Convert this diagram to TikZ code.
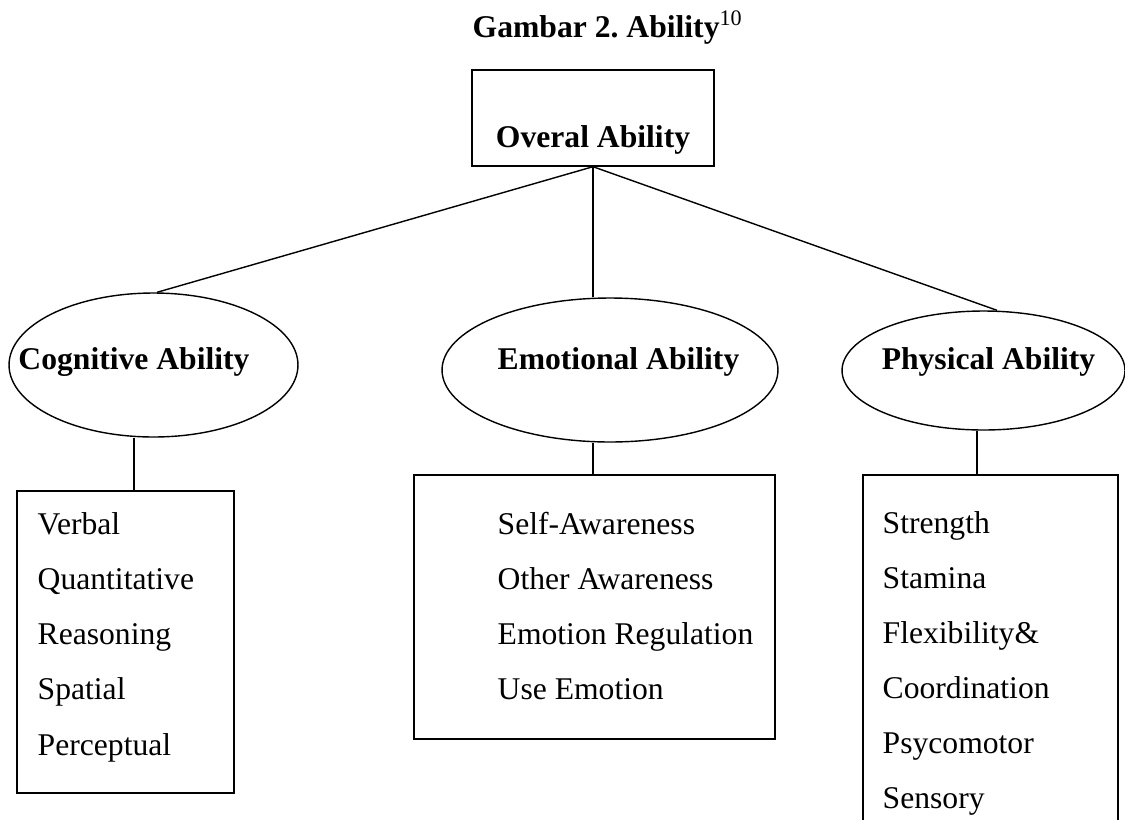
\documentclass[tikz,border=0pt]{standalone}
\usepackage{fontspec}
\setmainfont{Liberation Serif}
\usetikzlibrary{shapes.geometric}
\usetikzlibrary{positioning}
\frenchspacing

\begin{document}
\begin{tikzpicture}[x=0.02cm,y=-0.02cm,line width=0.8pt,
	font=\fontsize{18}{22}\selectfont,
	main box/.style={rectangle,draw,inner sep=0pt},
	main ell/.style={ellipse,draw,inner sep=0pt},
	head/.style={font=\fontsize{18}{22}\selectfont\bfseries},
	item/.style={anchor=base west,inner sep=0pt}]

	\useasboundingbox (0,0) rectangle (1125,819);

	\node[head,anchor=base west,inner sep=0pt] (title) at (472,37) {Gambar 2. Ability\textsuperscript{\mdseries 10}};

	\node[main box,head,minimum width=4.84cm,minimum height=1.92cm,
		text height=1.3cm,text depth=0.14cm] (all) at (593,118) {Overal Ability};

	\node[main ell,minimum width=5.78cm,minimum height=2.88cm] (cog) at (153.5,365) {};
	\node[main ell,minimum width=6.72cm,minimum height=2.88cm] (emo) at (610,370) {};
	\node[main ell,minimum width=5.66cm,minimum height=2.38cm] (phy) at (983.5,370.5) {};

	\node[head,anchor=base,inner sep=0pt] (cogt) at (134,369) {Cognitive Ability};
	\node[head,anchor=base,inner sep=0pt] (emot) at (618.5,369) {Emotional Ability};
	\node[head,anchor=base,inner sep=0pt] (phyt) at (988.5,369) {Physical Ability};

	\node[main box,minimum width=4.34cm,minimum height=6.04cm] (cogbox) at (125.5,642) {};
	\node[main box,minimum width=7.22cm,minimum height=5.28cm] (emobox) at (594.5,607) {};
	\node[main box,minimum width=5.1cm,minimum height=7cm] (phybox) at (990.5,650) {};

	\foreach \t [count=\i] in {Verbal,Quantitative,Reasoning,Spatial,Perceptual}
		\node[item] (cog-\i) at (37,{534+55.3*(\i-1)}) {\t};
	\foreach \t [count=\i] in {Self-Awareness,Other Awareness,Emotion Regulation,Use Emotion}
		\node[item] (emo-\i) at (497,{534+55.3*(\i-1)}) {\t};
	\foreach \t [count=\i] in {Strength,Stamina,Flexibility\&,Coordination,Psycomotor,Sensory}
		\node[item] (phy-\i) at (882,{533+55*(\i-1)}) {\t};

	\draw (all.south) -- ([xshift=0.07cm]cog.north);
	\draw (all.south) -- (all.south |- emo.north);
	\draw (all.south) -- ([xshift=0.27cm]phy.north);

	\draw (cogt |- cog.south) -- (cogt |- cogbox.north);
	\draw ([xshift=-0.03cm]emobox.north |- emo.south) -- ([xshift=-0.03cm]emobox.north);
	\draw ([xshift=-0.13cm]phy.south) -- ([xshift=-0.13cm]phy.south |- phybox.north);
\end{tikzpicture}
\end{document}
